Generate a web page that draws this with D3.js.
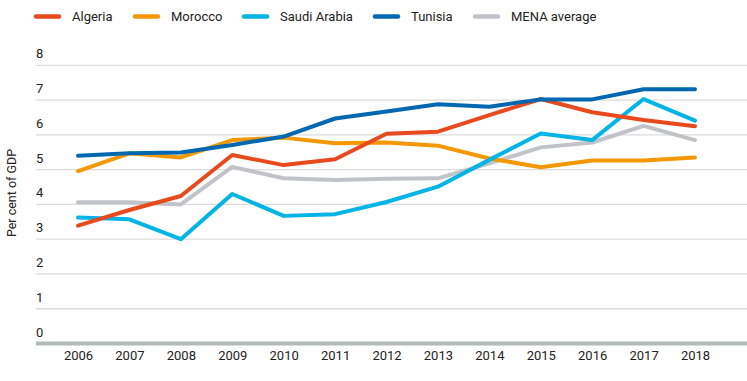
<!DOCTYPE html>
<html><head><meta charset="utf-8">
<script src="https://cdn.jsdelivr.net/npm/d3@7"></script>
<style>body{margin:0;background:#fff;} text{font-family:Roboto, "Noto Sans", sans-serif;}</style>
</head><body><svg id="c" width="747" height="381"></svg>
<script>
const years = [2006,2007,2008,2009,2010,2011,2012,2013,2014,2015,2016,2017,2018];
const algeria = [3.39,3.84,4.24,5.42,5.13,5.30,6.03,6.09,6.57,7.03,6.65,6.43,6.25];
const morocco = [4.96,5.47,5.35,5.85,5.92,5.76,5.78,5.69,5.32,5.07,5.26,5.26,5.35];
const saudi = [3.62,3.57,3.00,4.30,3.67,3.72,4.07,4.51,5.28,6.04,5.85,7.03,6.41];
const tunisia = [5.40,5.47,5.49,5.71,5.95,6.47,6.67,6.88,6.81,7.02,7.02,7.31,7.31];
const mena = [4.06,4.06,4.00,5.08,4.75,4.70,4.74,4.75,5.18,5.64,5.78,6.26,5.85];
const yTicks = [0,1,2,3,4,5,6,7,8];
const seriesNames = ["Algeria","Morocco","Saudi Arabia","Tunisia","MENA average"];
const seriesColors = ["#e8491d","#f39800","#00b4e5","#0068b1","#c0c3c8"];
const seriesData = [algeria,morocco,saudi,tunisia,mena];

const svg = d3.select("#c");
const x = d3.scalePoint().domain(years).range([78,695]);
const y = d3.scaleLinear().domain([0,8]).range([343.5,65.3]);

// gridlines
const grid = svg.append("g");
grid.selectAll("line").data(yTicks.filter(d=>d>0)).join("line")
  .attr("x1",36).attr("x2",747).attr("y1",d=>y(d)).attr("y2",d=>y(d))
  .attr("stroke","#dcdcdc").attr("stroke-width",1.3);
grid.selectAll("text").data(yTicks).join("text")
  .attr("x",36).attr("y",d=>y(d)-7).attr("font-size",13).attr("fill","#222")
  .text(d=>d);

// y title
svg.append("text").attr("transform","translate(16,193) rotate(-90)")
  .attr("text-anchor","middle").attr("font-size",12.5).attr("fill","#222").text("Per cent of GDP");

// lines
const line = d3.line().x((d,i)=>x(years[i])).y(d=>y(d));
const order = [4,1,2,0,3];
order.forEach(k=>{
  svg.append("path").datum(seriesData[k]).attr("d",line)
    .attr("fill","none").attr("stroke",seriesColors[k]).attr("stroke-width",4)
    .attr("stroke-linejoin","round").attr("stroke-linecap","round");
});

// x axis baseline
svg.append("line").attr("x1",36).attr("x2",747).attr("y1",y(0)).attr("y2",y(0))
  .attr("stroke","#b3bbba").attr("stroke-width",4);

// x labels
const xAxis = d3.axisBottom(x).tickSize(0).tickPadding(0);
const gx = svg.append("g").attr("transform","translate(0,351)").call(xAxis);
gx.select(".domain").remove();
gx.selectAll("text").attr("font-size",13).attr("fill","#222").attr("font-family","Roboto, sans-serif").attr("dy","0.71em");

// legend
const legX = [34,133,242,373,473];
const leg = svg.append("g");
seriesNames.forEach((n,i)=>{
  leg.append("line").attr("x1",legX[i]+2).attr("x2",legX[i]+25).attr("y1",16.5).attr("y2",16.5)
    .attr("stroke",seriesColors[i]).attr("stroke-width",4.5).attr("stroke-linecap","round");
  leg.append("text").attr("x",legX[i]+38).attr("y",21).attr("font-size",13).attr("fill","#222").text(n);
});
</script></body></html>
